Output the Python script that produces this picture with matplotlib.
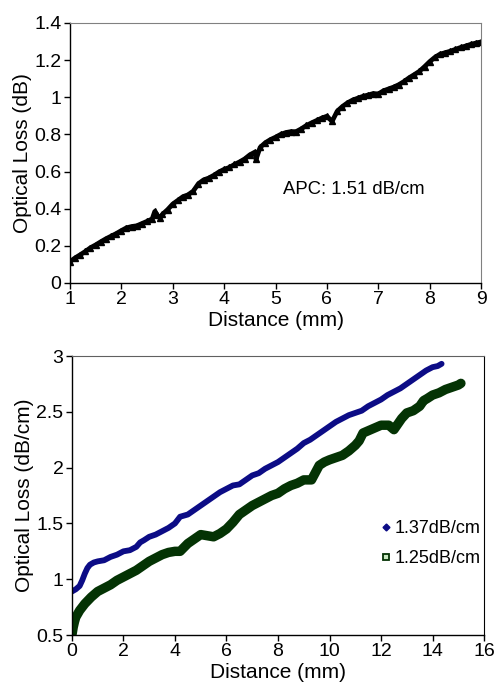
import matplotlib
matplotlib.use('Agg')
import matplotlib.pyplot as plt
from matplotlib.lines import Line2D

plt.rcParams['font.family'] = ['Liberation Sans', 'DejaVu Sans']

# top panel: APC loss vs distance
apc_dist = [1.0, 1.1, 1.2, 1.3, 1.4, 1.5, 1.6, 1.7, 1.8, 1.9,
            2.0, 2.1, 2.2, 2.3, 2.4, 2.5, 2.6, 2.65, 2.7, 2.75, 2.8, 2.9,
            3.0, 3.1, 3.2, 3.3, 3.4, 3.5, 3.6, 3.7, 3.8, 3.9,
            4.0, 4.1, 4.2, 4.3, 4.4, 4.5, 4.6, 4.62, 4.7, 4.8, 4.9,
            5.0, 5.1, 5.2, 5.3, 5.4, 5.5, 5.6, 5.7, 5.8, 5.9,
            6.0, 6.1, 6.2, 6.3, 6.4, 6.5, 6.6, 6.7, 6.8, 6.9,
            7.0, 7.1, 7.2, 7.3, 7.4, 7.5, 7.6, 7.7, 7.8, 7.9,
            8.0, 8.1, 8.2, 8.3, 8.4, 8.5, 8.6, 8.7, 8.8, 8.9, 9.0]
apc_loss = [0.115, 0.135, 0.152, 0.170, 0.190, 0.205, 0.222, 0.238, 0.252, 0.266,
            0.282, 0.297, 0.304, 0.308, 0.320, 0.332, 0.345, 0.385, 0.365, 0.350, 0.370, 0.395,
            0.425, 0.445, 0.465, 0.475, 0.495, 0.535, 0.555, 0.565, 0.580, 0.598,
            0.612, 0.622, 0.638, 0.652, 0.668, 0.690, 0.705, 0.665, 0.730, 0.755, 0.772,
            0.785, 0.800, 0.810, 0.815, 0.815, 0.830, 0.848, 0.862, 0.875, 0.888,
            0.898, 0.870, 0.925, 0.950, 0.970, 0.985, 0.995, 1.005, 1.012, 1.020,
            1.018, 1.035, 1.045, 1.055, 1.068, 1.085, 1.105, 1.122, 1.140, 1.165,
            1.192, 1.215, 1.232, 1.240, 1.248, 1.258, 1.268, 1.276, 1.285, 1.292, 1.298]

# bottom panel: two samples
d1 = [0.0, 0.15, 0.3, 0.4, 0.5, 0.6, 0.7, 0.85, 1.0, 1.25, 1.5, 1.75, 2.0, 2.25, 2.5,
      2.65, 2.8, 3.0, 3.25, 3.5, 3.75, 4.0, 4.2, 4.5, 4.75, 5.0, 5.25, 5.5, 5.75,
      6.0, 6.25, 6.5, 6.75, 7.0, 7.25, 7.5, 7.75, 8.0, 8.25, 8.5, 8.75, 9.0, 9.25,
      9.5, 9.75, 10.0, 10.25, 10.5, 10.75, 11.0, 11.25, 11.5, 11.75, 12.0, 12.25,
      12.5, 12.75, 13.0, 13.25, 13.5, 13.75, 14.0, 14.2, 14.35]
loss1 = [0.89, 0.91, 0.94, 0.99, 1.05, 1.10, 1.13, 1.15, 1.16, 1.17, 1.20, 1.22, 1.25, 1.26, 1.29,
         1.33, 1.35, 1.38, 1.40, 1.43, 1.46, 1.50, 1.56, 1.58, 1.62, 1.66, 1.70, 1.74, 1.78,
         1.81, 1.84, 1.85, 1.89, 1.93, 1.95, 1.99, 2.02, 2.05, 2.09, 2.13, 2.17, 2.22, 2.25,
         2.29, 2.33, 2.37, 2.41, 2.44, 2.47, 2.49, 2.51, 2.55, 2.58, 2.61, 2.65,
         2.68, 2.71, 2.75, 2.79, 2.83, 2.87, 2.90, 2.91, 2.93]

d2 = [0.0, 0.05, 0.1, 0.15, 0.3, 0.5, 0.75, 1.0, 1.25, 1.5, 1.75, 2.0, 2.25, 2.5, 2.75,
      3.0, 3.25, 3.5, 3.75, 4.0, 4.2, 4.5, 4.75, 5.0, 5.25, 5.5, 5.75, 6.0, 6.25,
      6.5, 6.75, 7.0, 7.25, 7.5, 7.75, 8.0, 8.25, 8.5, 8.75, 9.0, 9.3, 9.6, 9.8,
      10.0, 10.25, 10.5, 10.75, 11.0, 11.15, 11.3, 11.5, 11.7, 12.0, 12.3, 12.5,
      12.65, 12.8, 13.0, 13.25, 13.5, 13.65, 13.8, 14.0, 14.25, 14.5, 14.75, 15.0, 15.1]
loss2 = [0.50, 0.57, 0.62, 0.66, 0.72, 0.78, 0.84, 0.89, 0.92, 0.95, 0.99, 1.02, 1.05, 1.08, 1.12,
         1.16, 1.19, 1.22, 1.24, 1.25, 1.25, 1.32, 1.36, 1.40, 1.39, 1.38, 1.41, 1.45, 1.51,
         1.58, 1.62, 1.66, 1.69, 1.72, 1.75, 1.77, 1.81, 1.84, 1.86, 1.89, 1.89, 2.02, 2.05,
         2.07, 2.09, 2.11, 2.15, 2.20, 2.24, 2.31, 2.33, 2.35, 2.38, 2.38, 2.34,
         2.39, 2.44, 2.49, 2.51, 2.55, 2.60, 2.62, 2.65, 2.67, 2.70, 2.72, 2.74, 2.755]

label1 = '1.37dB/cm'
label2 = '1.25dB/cm'
blue = '#0c0c86'
green = '#043304'

fig = plt.figure(figsize=(4.96, 6.96), dpi=100)

# top axes
ax1 = fig.add_axes([0.141, 0.5934, 0.829, 0.3736])
ax1.plot(apc_dist, apc_loss, color='black', lw=3.4, marker='^', ms=4.5,
         mec='black', mfc='black', solid_capstyle='round')
ax1.set_xlim(1, 9)
ax1.set_ylim(0, 1.4)
ax1.set_xticks(range(1, 10))
ax1.set_yticks([0, 0.2, 0.4, 0.6, 0.8, 1, 1.2, 1.4])
ax1.set_yticklabels(['0', '0.2', '0.4', '0.6', '0.8', '1', '1.2', '1.4'])
ax1.set_xlabel('Distance (mm)', fontsize=15, labelpad=2)
ax1.set_ylabel('Optical Loss (dB)', fontsize=15, labelpad=2)
ax1.text(5.14, 0.506, 'APC: 1.51 dB/cm', fontsize=13.3, ha='left', va='center')
for s in ['top', 'right']:
    ax1.spines[s].set_color('#808080')

# bottom axes
ax2 = fig.add_axes([0.145, 0.0876, 0.831, 0.4009])
ax2.plot(d1, loss1, color=blue, lw=4.2, solid_capstyle='round')
ax2.plot(d2, loss2, color=green, lw=6.8, solid_capstyle='round')
ax2.set_xlim(0, 16)
ax2.set_ylim(0.5, 3)
ax2.set_xticks(range(0, 17, 2))
ax2.set_yticks([0.5, 1, 1.5, 2, 2.5, 3])
ax2.set_yticklabels(['0.5', '1', '1.5', '2', '2.5', '3'])
ax2.set_xlabel('Distance (mm)', fontsize=15, labelpad=2)
ax2.set_ylabel('Optical Loss (dB/cm)', fontsize=15, labelpad=2)
ax2.spines['top'].set_color('#606060')

handles = [Line2D([], [], ls='none', marker='D', ms=3.5, color=blue),
           Line2D([], [], ls='none', marker='s', ms=4.5, mec=green, mfc='#c8e8c0', mew=1.3)]
ax2.legend(handles, [label1, label2], loc='center right', bbox_to_anchor=(1.01, 0.328),
           frameon=False, fontsize=13, handlelength=0.4, handletextpad=0.3,
           labelspacing=0.7, borderaxespad=0)

for ax in (ax1, ax2):
    ax.tick_params(direction='out', length=4, width=1, labelsize=14, pad=2)
    for s in ['left', 'bottom']:
        ax.spines[s].set_linewidth(1)

fig.savefig('out.png', dpi=100)
